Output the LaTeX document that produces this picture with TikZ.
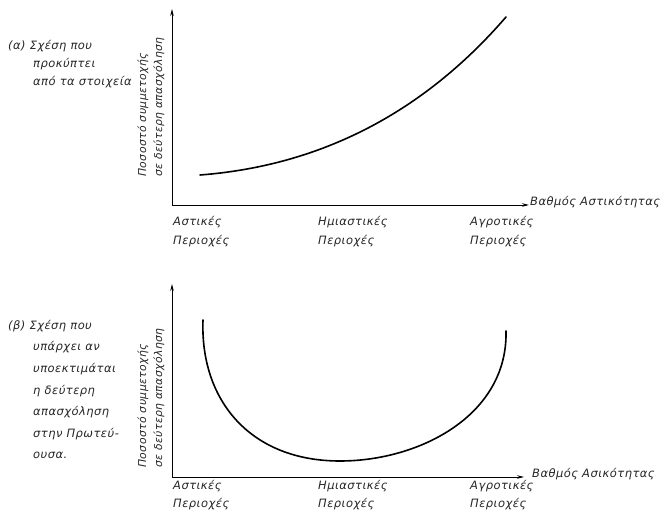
\documentclass[tikz,border=0pt]{standalone}
\usepackage{fontspec}
\setmainfont{DejaVu Sans}[LetterSpace=4]
\usetikzlibrary{arrows.meta}
\begin{document}
\begin{tikzpicture}[x=1pt,y=-1pt,
  txt/.style={font=\fontsize{11.5}{13}\selectfont\itshape, inner sep=0pt, text=black!85},
  lbl/.style={txt, anchor=west, align=left},
  ylab/.style={txt, font=\fontsize{10.8}{13}\selectfont\itshape, rotate=90, anchor=west},
  axis/.style={line width=0.8pt, -{Stealth[length=7pt,width=3.5pt]}},
  crv/.style={line width=1.6pt, line cap=round}]
\useasboundingbox (0,0) rectangle (667,518);
% ---------- (a) ----------
\coordinate (oa) at (172,205);
\coordinate (ya) at (172,9);
\coordinate (xa) at (529,205);
\draw[axis] (oa) -- (ya);
\draw[axis] (oa) -- (xa);
\node[lbl] (xla) at (530,202) {Βαθμός Αστικότητας};
\node[ylab] (yla1) at (143,177) {Ποσοστό συμμετοχής};
\node[ylab] (yla2) at (159,177) {σε δεύτερη απασχόληση};
\node[lbl] (ta1) at (173,222) {Αστικές};
\node[lbl] (ta2) at (173,241) {Περιοχές};
\node[lbl] (ta3) at (318,222) {Ημιαστικές};
\node[lbl] (ta4) at (318,241) {Περιοχές};
\node[lbl] (ta5) at (470,222) {Αγροτικές};
\node[lbl] (ta6) at (470,241) {Περιοχές};
\node[lbl] (ca1) at (8,46) {(α) Σχέση που};
\node[lbl] (ca2) at (33,64) {προκύπτει};
\node[lbl] (ca3) at (33,82) {από τα στοιχεία};
\draw[crv] (200,175) .. controls (330,165) and (430,105) .. (506,17);
% ---------- (b) ----------
\coordinate (ob) at (172,477);
\coordinate (yb) at (172,284);
\coordinate (xb) at (524,477);
\draw[axis] (ob) -- (yb);
\draw[axis] (ob) -- (xb);
\node[lbl] (xlb) at (532,474) {Βαθμός Ασικότητας};
\node[ylab] (ylb1) at (143,468) {Ποσοστό συμμετοχής};
\node[ylab] (ylb2) at (159,468) {σε δεύτερη απασχόληση};
\node[lbl] (tb1) at (173,486) {Αστικές};
\node[lbl] (tb2) at (173,504) {Περιοχές};
\node[lbl] (tb3) at (318,486) {Ημιαστικές};
\node[lbl] (tb4) at (318,504) {Περιοχές};
\node[lbl] (tb5) at (470,486) {Αγροτικές};
\node[lbl] (tb6) at (470,504) {Περιοχές};
\node[lbl] (cb1) at (8,326) {(β) Σχέση που};
\node[lbl] (cb2) at (33,347) {υπάρχει αν};
\node[lbl] (cb3) at (33,369) {υποεκτιμάται};
\node[lbl] (cb4) at (33,391) {η δεύτερη};
\node[lbl] (cb5) at (33,412) {απασχόληση};
\node[lbl] (cb6) at (33,434) {στην Πρωτεύ-};
\node[lbl] (cb7) at (33,455) {ουσα.};
\draw[crv] (203,320) .. controls (200,400) and (250,461) .. (340,461)
  .. controls (420,461) and (508,415) .. (506,331);
\end{tikzpicture}
\end{document}
